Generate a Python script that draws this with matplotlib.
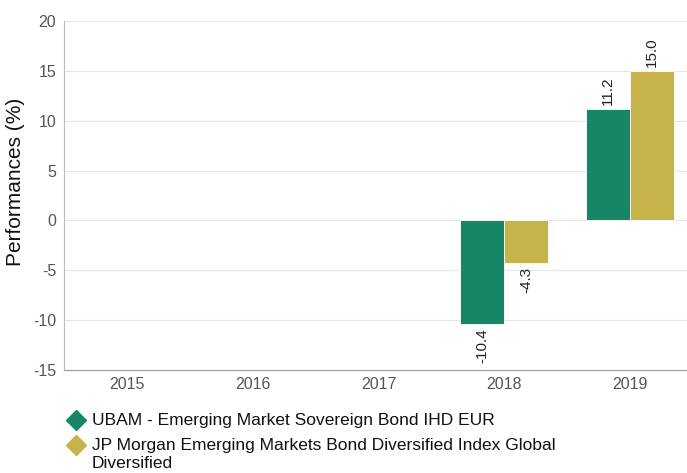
import matplotlib
matplotlib.use("Agg")
import matplotlib.pyplot as plt
from matplotlib.lines import Line2D
import numpy as np

plt.rcParams['font.family'] = ['Liberation Sans', 'DejaVu Sans']
plt.rcParams['axes.unicode_minus'] = False

# data
years = ["2015", "2016", "2017", "2018", "2019"]
fund_values = [None, None, None, -10.4, 11.2]
index_values = [None, None, None, -4.3, 15.0]
fund_name = "UBAM - Emerging Market Sovereign Bond IHD EUR"
index_name = "JP Morgan Emerging Markets Bond Diversified Index Global\nDiversified"

green = "#168766"
gold = "#c6b34a"

W, H = 687, 473
fig = plt.figure(figsize=(W / 100, H / 100), dpi=100)
ax = fig.add_axes([64 / W, 1 - 370 / H, 629 / W, 349 / H])

x = np.arange(len(years))
w = 0.35

for series, off, col in [(fund_values, -w / 2, green), (index_values, w / 2, gold)]:
    for i, v in enumerate(series):
        if v is None:
            continue
        ax.bar(x[i] + off, v, width=w, color=col, edgecolor="white", linewidth=0.6, zorder=3)
        if v >= 0:
            ax.text(x[i] + off, v + 0.4, f"{v:.1f}", rotation=90, ha="center", va="bottom",
                    fontsize=11, color="#222222", zorder=4)
        else:
            ax.text(x[i] + off, v - 0.4, f"{v:.1f}", rotation=90, ha="center", va="top",
                    fontsize=11, color="#222222", zorder=4)

ax.set_xlim(-0.5, len(years) - 0.5)
ax.set_ylim(-15, 20)
ax.set_yticks(range(-15, 21, 5))
ax.set_xticks(x)
ax.set_xticklabels(years)
ax.grid(axis="y", color="#e6e6e6", linewidth=0.8, zorder=0)
ax.tick_params(axis="both", length=0, labelsize=11.5, labelcolor="#555555")
ax.tick_params(axis="x", pad=5)
ax.tick_params(axis="y", pad=5.5)
for s in ["top", "right"]:
    ax.spines[s].set_visible(False)
ax.spines["left"].set_color("#bbbbbb")
ax.spines["bottom"].set_color("#999999")
ax.set_ylabel("Performances (%)", fontsize=15, color="#111111")
ax.yaxis.set_label_coords(-0.062, 0.54)

# legend drawn by hand so the marker sits on the first line of a wrapped label
legend_rows = [(fund_name, green, 420), (index_name, gold, 445)]
for label, col, ypx in legend_rows:
    fig.add_artist(Line2D([76 / W], [1 - ypx / H], transform=fig.transFigure,
                          marker="D", markersize=10.5, color=col, linestyle="none"))
    fig.text(92 / W, 1 - (ypx - 7) / H, label, ha="left", va="top",
             fontsize=12.5, color="#111111", linespacing=1.25)

fig.savefig("out.png", dpi=100)
